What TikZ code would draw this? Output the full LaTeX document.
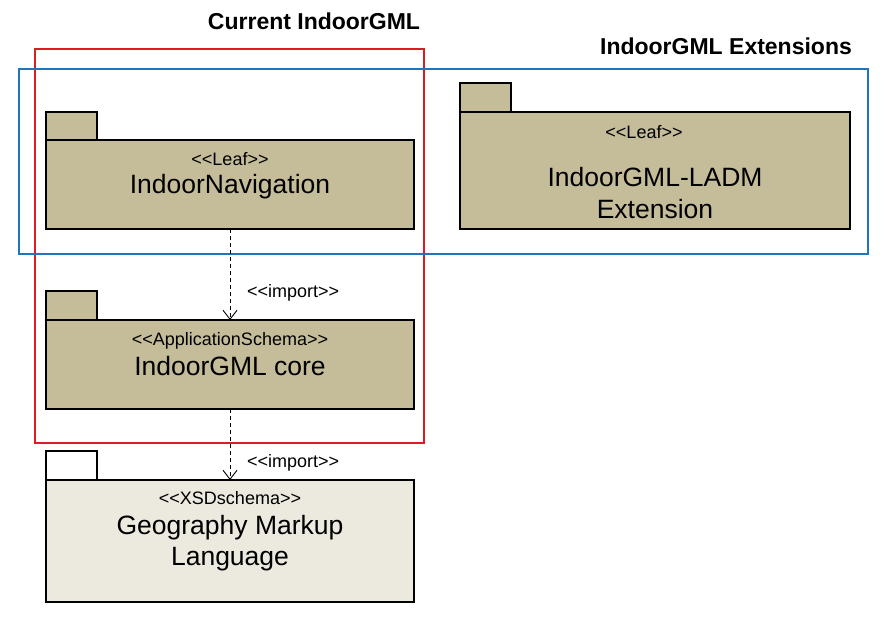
\documentclass[tikz,border=0pt]{standalone}
\usepackage{fontspec}
\setmainfont{Liberation Sans}
\usetikzlibrary{arrows.meta}
\definecolor{pkgtan}{RGB}{197,189,153}
\definecolor{pkglight}{RGB}{236,233,223}
\definecolor{frred}{RGB}{218,28,36}
\definecolor{frblue}{RGB}{30,118,190}
\newcommand{\ltlt}{<{}<}
\newcommand{\gtgt}{>{}>}
\tikzset{
  pkgbody/.style={draw=black, line width=2pt, fill=pkgtan, anchor=north west, inner sep=0pt, outer sep=0pt},
  pkglightbody/.style={pkgbody, fill=pkglight},
  pkgwhite/.style={pkgbody, fill=white},
  stereo/.style={font=\fontsize{18}{21}\selectfont, inner sep=0pt},
  pname/.style={font=\fontsize{26.5}{31.5}\selectfont, inner sep=0pt, align=center},
  ttl/.style={font=\bfseries\fontsize{23}{27}\selectfont, inner sep=0pt},
  frame/.style={line width=1.8pt},
  dep/.style={line width=0.9pt, dash pattern=on 4pt off 3pt, -{Straight Barb[length=9pt,width=14pt,line width=0.9pt]}},
  implbl/.style={font=\fontsize{18}{21}\selectfont, inner sep=0pt, anchor=west}
}
\begin{document}
\begin{tikzpicture}[x=1pt,y=-1pt]
\useasboundingbox (0,0) rectangle (891,623);
% packages
\node[pkgbody, minimum width=51pt, minimum height=28pt] (navtab) at (46,112) {};
\node[pkgbody, minimum width=368pt, minimum height=89pt] (nav) at (46,140) {};
\node[stereo] (navst) at (230,159) {\ltlt Leaf\gtgt};
\node[pname] (navnm) at (230,187) {IndoorNavigation};

\node[pkgbody, minimum width=51pt, minimum height=29pt] (ladmtab) at (460,83) {};
\node[pkgbody, minimum width=390pt, minimum height=117pt] (ladm) at (460,112) {};
\node[stereo] (ladmst) at (644,132) {\ltlt Leaf\gtgt};
\node[pname] (ladmnm) at (655,193) {IndoorGML-LADM\\Extension};

\node[pkgbody, minimum width=51pt, minimum height=29pt] (coretab) at (46,291) {};
\node[pkgbody, minimum width=368pt, minimum height=89pt] (core) at (46,320) {};
\node[stereo] (corest) at (230,341) {\ltlt ApplicationSchema\gtgt};
\node[pname] (corenm) at (230,366) {IndoorGML core};

\node[pkgwhite, minimum width=51pt, minimum height=29pt] (gmltab) at (46,451) {};
\node[pkglightbody, minimum width=368pt, minimum height=122pt] (gml) at (46,480) {};
\node[stereo] (gmlst) at (230,498) {\ltlt XSDschema\gtgt};
\node[pname] (gmlnm) at (230,543) {Geography Markup\\Language};

% frames
\draw[frame, frred] (35,49) rectangle (424,443);
\draw[frame, frblue] (19,69) rectangle (868,254);
\node[ttl] (t1) at (314,21) {Current IndoorGML};
\node[ttl] (t2) at (726,46) {IndoorGML Extensions};

% dependencies
\draw[dep] (nav.south -| 230,0) -- (core.north -| 230,0);
\draw[dep] (core.south -| 230,0) -- (gml.north -| 230,0);
\node[implbl] (imp1) at (247,293) {\ltlt import\gtgt};
\node[implbl] (imp2) at (247,463) {\ltlt import\gtgt};
\end{tikzpicture}
\end{document}
